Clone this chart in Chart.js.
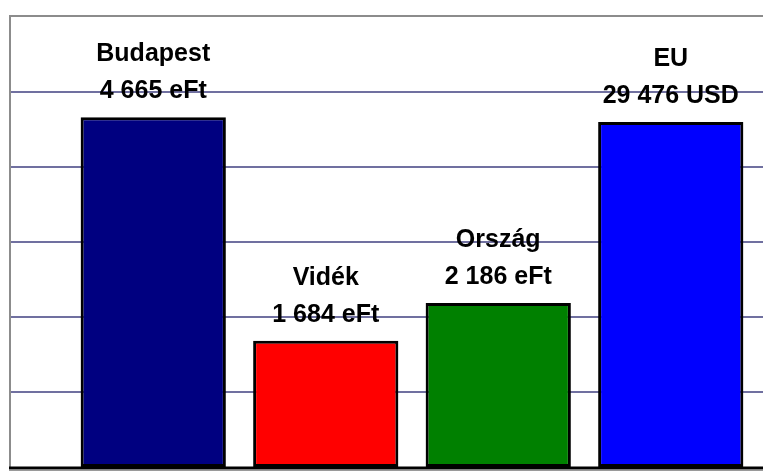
<!DOCTYPE html>
<html>
<head>
<meta charset="utf-8">
<script src="https://cdn.jsdelivr.net/npm/chart.js@4"></script>
<style>
  html, body { margin: 0; padding: 0; background: #fff; }
  #wrap { width: 763px; height: 471px; }
</style>
</head>
<body>
<div id="wrap"><canvas id="myChart" width="763" height="471"></canvas></div>
<script>
const categories = ['Budapest', 'Vidék', 'Ország', 'EU'];
const values = [4665, 1684, 2186, 4600];
const valueLabels = ['4 665 eFt', '1 684 eFt', '2 186 eFt', '29 476 USD'];
const barColors = ['#000080', '#ff0000', '#008000', '#0000ff'];
const yMin = 0;
const yMax = 6000;
const yStep = 1000;

// horizontal grid lines + frame, drawn across the whole visible plot panel
const frame = {
    id: 'frame',
    beforeDatasetsDraw(chart) {
        const ctx = chart.ctx;
        const y = chart.scales.y;
        const w = chart.width;
        ctx.save();
        ctx.strokeStyle = 'rgb(112, 112, 160)';
        ctx.lineWidth = 2;
        y.ticks.forEach(t => {
            if (t.value <= yMin || t.value >= yMax) return;
            const py = Math.round(y.getPixelForValue(t.value));
            ctx.beginPath();
            ctx.moveTo(10, py);
            ctx.lineTo(w, py);
            ctx.stroke();
        });
        // grey border left + top
        const top = Math.round(y.getPixelForValue(yMax));
        const bottom = Math.round(y.getPixelForValue(yMin));
        ctx.strokeStyle = '#8c8c8c';
        ctx.lineWidth = 2;
        ctx.beginPath();
        ctx.moveTo(10, bottom + 2);
        ctx.lineTo(10, top - 1);
        ctx.lineTo(w, top - 1);
        ctx.stroke();
        ctx.restore();
    },
    afterDatasetsDraw(chart) {
        const ctx = chart.ctx;
        const y = chart.scales.y;
        const bottom = Math.round(y.getPixelForValue(yMin));
        ctx.save();
        ctx.strokeStyle = '#000';
        ctx.lineWidth = 3;
        ctx.beginPath();
        ctx.moveTo(9, bottom + 1);
        ctx.lineTo(chart.width, bottom + 1);
        ctx.stroke();
        ctx.strokeStyle = '#9a9a9a';
        ctx.lineWidth = 1;
        ctx.beginPath();
        ctx.moveTo(9, bottom + 3.5);
        ctx.lineTo(chart.width, bottom + 3.5);
        ctx.stroke();

        // data labels above each bar
        ctx.fillStyle = '#000';
        ctx.font = 'bold 25px "Liberation Sans", Arial, sans-serif';
        ctx.textAlign = 'center';
        ctx.textBaseline = 'alphabetic';
        chart.getDatasetMeta(0).data.forEach((bar, i) => {
            const base = bar.y - 19;
            ctx.fillText(valueLabels[i], bar.x, base);
            ctx.fillText(categories[i], bar.x, base - 37);
        });
        ctx.restore();
    }
};

const data = {
    labels: categories,
    datasets: [
        {
            data: values,
            backgroundColor: barColors,
            borderColor: '#000',
            borderWidth: 3,
            borderSkipped: false,
            categoryPercentage: 1,
            barPercentage: 0.842
        }
    ]
};

const config = {
    type: 'bar',
    data: data,
    options: {
        animation: false,
        responsive: false,
        layout: {
            padding: { left: 67, right: 6, top: 17, bottom: 4 }
        },
        plugins: {
            legend: { display: false },
            tooltip: { enabled: false }
        },
        scales: {
            x: {
                display: false
            },
            y: {
                display: false,
                min: yMin,
                max: yMax,
                ticks: { stepSize: yStep }
            }
        }
    },
    plugins: [frame]
};

var myChart;

window.addEventListener('load', _ => {
    const ctx = document.getElementById('myChart').getContext('2d');
    myChart = new Chart(ctx, config);
});
</script>
</body>
</html>
